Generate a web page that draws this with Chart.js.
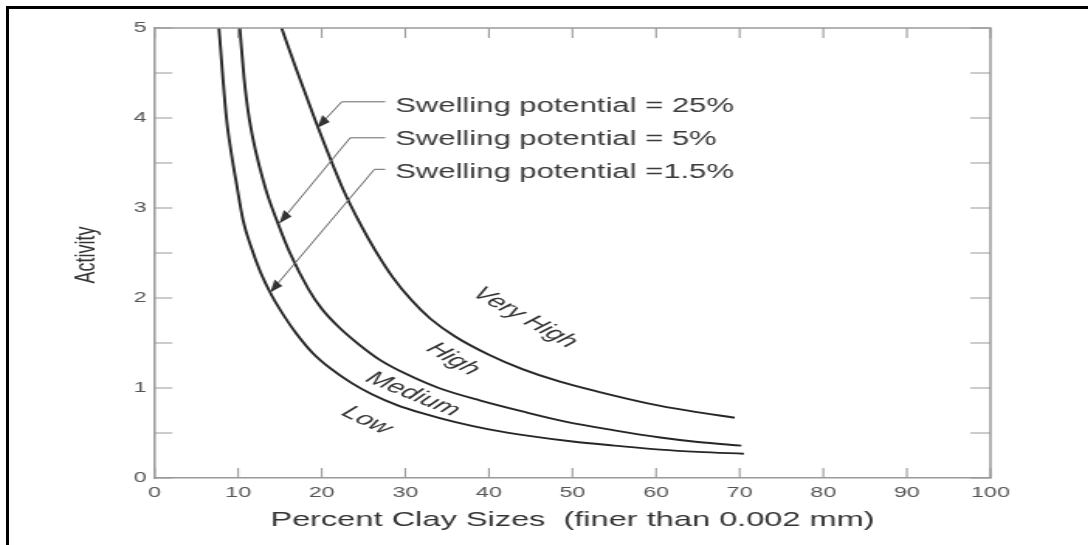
<!DOCTYPE html>
<html>
<head>
<meta charset="utf-8">
<script src="https://cdn.jsdelivr.net/npm/chart.js@4.4.1/dist/chart.umd.min.js"></script>
<style>
html, body { margin: 0; padding: 0; background: #fff; overflow: hidden; }
#wrap { position: absolute; left: 0; top: 0; width: 702px; height: 545px; transform: scaleX(1.55); transform-origin: 0 0; }
#frame { position: absolute; left: 6px; top: 6px; width: 1090px; height: 545px; border-top: 3px solid #000; border-left: 3px solid #000; pointer-events: none; }
</style>
</head>
<body>
<div id="wrap"><canvas id="myChart" width="702" height="545"></canvas></div>
<div id="frame"></div>
<script>
// boundary curves (clay %, activity)
var lowX = [7.7, 8.6, 9.2, 9.8, 10.6, 11.5, 12.7, 14.0, 15.5, 17.0, 19.0, 21.0, 23.5, 26.0, 29.0, 32.0, 36.0, 40.0, 45.0, 50.0, 55.0, 60.5, 65.0, 70.5]
var lowY = [5.0, 4.0, 3.6, 3.27, 2.86, 2.58, 2.28, 2.03, 1.8, 1.6, 1.38, 1.22, 1.06, 0.93, 0.81, 0.72, 0.62, 0.54, 0.465, 0.405, 0.36, 0.315, 0.29, 0.27]

var medX = [10.2, 10.7, 11.35, 13.2, 14.8, 16.2, 18.4, 20.0, 22.0, 24.5, 27.0, 30.0, 34.0, 39.0, 44.0, 49.0, 55.0, 60.5, 65.0, 70.2]
var medY = [5.0, 4.45, 3.98, 3.24, 2.82, 2.5, 2.1, 1.88, 1.68, 1.48, 1.31, 1.16, 1.0, 0.86, 0.74, 0.63, 0.53, 0.45, 0.4, 0.36]

var vhX = [15.2, 17.0, 19.2, 22.4, 24.8, 26.4, 28.5, 30.7, 33.0, 36.0, 40.0, 44.0, 48.5, 53.0, 59.0, 64.0, 69.4]
var vhY = [5.0, 4.53, 3.98, 3.24, 2.79, 2.53, 2.23, 1.98, 1.77, 1.57, 1.37, 1.21, 1.07, 0.96, 0.83, 0.745, 0.67]

// callouts: text, where the text sits, elbow of the leader, arrow tip (data units)
var calloutText = ['Swelling potential = 25%', 'Swelling potential = 5%', 'Swelling potential =1.5%']
var calloutY = [4.13, 3.76, 3.40]
var elbowX = [22.4, 23.4, 26.3]
var elbowY = [4.18, 3.78, 3.43]
var tipX = [19.45, 14.94, 13.82]
var tipY = [3.89, 2.83, 2.06]

var regionText = ['Very High', 'High', 'Medium', 'Low']
var regionX = [44.3, 35.7, 30.9, 25.4]
var regionY = [1.78, 1.32, 0.93, 0.64]

var sx = 1.55 // whole figure is stretched sideways
var regionAngle = [29, 30, 22, 25] // on-screen degrees

function pts(xs, ys) {
  var out = []
  for (var i = 0; i < xs.length; i++) out.push({x: xs[i], y: ys[i]})
  return out
}

var decor = {
  id: 'decor',
  afterDatasetsDraw: function(chart) {
    var ctx = chart.ctx, a = chart.chartArea
    var xs = chart.scales.x, ys = chart.scales.y
    ctx.save()
    // top and right frame
    ctx.strokeStyle = '#9a9a9a'
    ctx.lineWidth = 1.5
    ctx.beginPath()
    ctx.moveTo(a.left, a.top); ctx.lineTo(a.right, a.top); ctx.lineTo(a.right, a.bottom)
    ctx.stroke()
    // inward ticks
    ctx.lineWidth = 1.1
    ys.ticks.forEach(function(t) {
      var y = ys.getPixelForValue(t.value)
      ctx.beginPath()
      ctx.moveTo(a.left, y); ctx.lineTo(a.left + 11.5, y)
      ctx.moveTo(a.right - 13, y); ctx.lineTo(a.right, y)
      ctx.stroke()
    })
    xs.ticks.forEach(function(t) {
      var x = xs.getPixelForValue(t.value)
      ctx.beginPath()
      ctx.moveTo(x, a.top); ctx.lineTo(x, a.top + 10)
      ctx.moveTo(x, a.bottom); ctx.lineTo(x, a.bottom - 10)
      ctx.stroke()
    })

    // callouts
    for (var i = 0; i < calloutText.length; i++) {
      var textX = xs.getPixelForValue(28.8)
      var ly = ys.getPixelForValue(elbowY[i])
      var ex = xs.getPixelForValue(elbowX[i])
      var tx = xs.getPixelForValue(tipX[i]), ty = ys.getPixelForValue(tipY[i])
      ctx.strokeStyle = '#666'
      ctx.lineWidth = 1
      ctx.beginPath()
      ctx.moveTo(xs.getPixelForValue(27.6), ly)
      ctx.lineTo(ex, ly)
      ctx.lineTo(tx, ty)
      ctx.stroke()
      // arrow head, shaped in screen space
      var dx = (tx - ex) * sx, dy = ty - ly
      var len = Math.sqrt(dx * dx + dy * dy)
      dx /= len; dy /= len
      var bx = tx * sx - dx * 13, by = ty - dy * 13
      ctx.fillStyle = '#333'
      ctx.beginPath()
      ctx.moveTo(tx, ty)
      ctx.lineTo((bx - dy * 5) / sx, by + dx * 5)
      ctx.lineTo((bx + dy * 5) / sx, by - dx * 5)
      ctx.closePath()
      ctx.fill()

      ctx.fillStyle = '#3a3a3a'
      ctx.font = '20px "Liberation Sans", Arial, sans-serif'
      ctx.textAlign = 'left'
      ctx.textBaseline = 'middle'
      ctx.fillText(calloutText[i], textX, ys.getPixelForValue(calloutY[i]))
    }

    // region names along the curves
    ctx.font = 'italic 19px "Liberation Sans", Arial, sans-serif'
    ctx.textAlign = 'center'
    ctx.textBaseline = 'middle'
    ctx.fillStyle = '#333'
    for (var j = 0; j < regionText.length; j++) {
      var ang = Math.atan(Math.tan(regionAngle[j] * Math.PI / 180) * sx)
      ctx.save()
      ctx.translate(xs.getPixelForValue(regionX[j]), ys.getPixelForValue(regionY[j]))
      ctx.rotate(ang)
      ctx.fillText(regionText[j], 0, 0)
      ctx.restore()
    }

    // axis titles
    ctx.fillStyle = '#333'
    ctx.font = '21px "Liberation Sans", Arial, sans-serif'
    ctx.fillText('Percent Clay Sizes  (finer than 0.002 mm)', (a.left + a.right) / 2, 520)
    ctx.save()
    ctx.translate(56, (a.top + a.bottom) / 2 + 2)
    ctx.rotate(-Math.PI / 2)
    ctx.font = '18px "Liberation Sans", Arial, sans-serif'
    ctx.fillText('Activity', 0, 0)
    ctx.restore()
    ctx.restore()
  }
}

var lineStyle = {showLine: true, pointRadius: 0, borderColor: '#262626', borderWidth: 1.9, cubicInterpolationMode: 'monotone', fill: false}

new Chart(document.getElementById('myChart'), {
  type: 'scatter',
  data: {
    datasets: [
      Object.assign({label: 'Swelling potential = 1.5%', data: pts(lowX, lowY)}, lineStyle),
      Object.assign({label: 'Swelling potential = 5%', data: pts(medX, medY)}, lineStyle),
      Object.assign({label: 'Swelling potential = 25%', data: pts(vhX, vhY)}, lineStyle)
    ]
  },
  options: {
    responsive: false,
    animation: false,
    layout: {padding: {top: 28, right: 63, left: 0, bottom: 0}},
    plugins: {legend: {display: false}, tooltip: {enabled: false}},
    scales: {
      x: {
        type: 'linear', min: 0, max: 100,
        ticks: {stepSize: 10, color: '#555', padding: 6, maxRotation: 0, font: {family: '"Liberation Sans", Arial', size: 15}},
        grid: {display: false, drawTicks: false},
        border: {color: '#9a9a9a', width: 1.5},
        afterFit: function(s) { s.height = 67 }
      },
      y: {
        min: 0, max: 5,
        ticks: {
          stepSize: 0.5, autoSkip: false, color: '#555', padding: 5,
          font: {family: '"Liberation Sans", Arial', size: 15},
          callback: function(v) { return v % 1 === 0 ? v : '' }
        },
        grid: {display: false, drawTicks: false},
        border: {color: '#9a9a9a', width: 1.5},
        afterFit: function(s) { s.width = 99.7 }
      }
    }
  },
  plugins: [decor]
})
</script>
</body>
</html>
